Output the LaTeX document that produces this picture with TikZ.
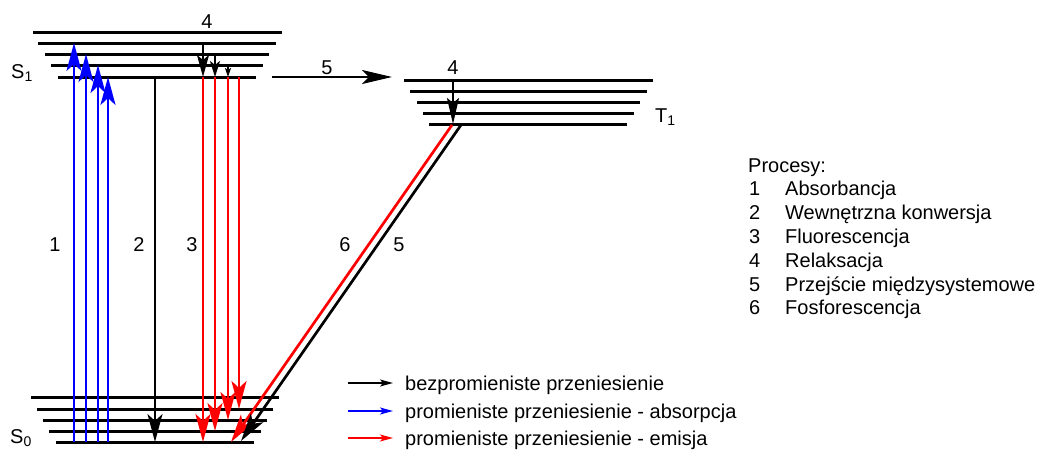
\documentclass[tikz,border=0pt]{standalone}
\usepackage{fontspec}
\setmainfont{Liberation Sans}
\usetikzlibrary{arrows.meta}
\begin{document}
\begin{tikzpicture}[x=1pt,y=-1pt,
  level/.style={line width=3pt},
  tr/.style={line width=2.7pt},
  hbig/.style={-{Stealth[length=28pt,width=15pt,inset=7pt]}},
  hmid/.style={-{Stealth[length=16pt,width=10pt,inset=4pt]}},
  hsmall/.style={-{Stealth[length=9pt,width=6pt,inset=2pt]}},
  hisc/.style={-{Stealth[length=30pt,width=14pt,inset=7pt]}},
  hleg/.style={-{Stealth[length=13pt,width=7pt,inset=3pt]}},
  lbl/.style={font=\fontsize{20}{24}\selectfont, inner sep=0pt}]
\useasboundingbox (0,0) rectangle (1045,450);
% levels
\foreach \y/\a/\b in {32/33/282, 43/38/276, 54/45/269, 65/51/263, 77/58/256}
  \draw[level] (\a,\y) -- (\b,\y);
\foreach \y/\a/\b in {397/31/279, 409/37/273, 420/43/267, 431/49/261, 442/56/254}
  \draw[level] (\a,\y) -- (\b,\y);
\foreach \y/\a/\b in {80/404/653, 91/410/647, 102/417/640, 113/423/634, 124/429/627}
  \draw[level] (\a,\y) -- (\b,\y);
% state labels
\node[lbl, anchor=base west] (s1) at (11,78) {S\textsubscript{1}};
\node[lbl, anchor=base west] (s0) at (10,443) {S\textsubscript{0}};
\node[lbl, anchor=base west] (t1) at (655,122) {T\textsubscript{1}};
% coordinates
\coordinate (a1s) at (74,442); \coordinate (a1e) at (74,43);
\coordinate (a2s) at (86,442); \coordinate (a2e) at (86,54);
\coordinate (a3s) at (98,442); \coordinate (a3e) at (98,65);
\coordinate (a4s) at (108,442); \coordinate (a4e) at (108,77);
\coordinate (icS) at (155,77); \coordinate (icE) at (155,442);
\coordinate (f1s) at (203,77); \coordinate (f1e) at (203,442);
\coordinate (f2s) at (215,77); \coordinate (f2e) at (215,431);
\coordinate (f3s) at (228,77); \coordinate (f3e) at (228,420);
\coordinate (f4s) at (239,77); \coordinate (f4e) at (239,409);
\coordinate (r1s) at (203,43); \coordinate (r1e) at (203,77);
\coordinate (r2s) at (215,54); \coordinate (r2e) at (215,77);
\coordinate (r3s) at (228,65); \coordinate (r3e) at (228,77);
\coordinate (iscS) at (272,77); \coordinate (iscE) at (392,77);
\coordinate (trS) at (453,80); \coordinate (trE) at (453,124);
\coordinate (phS) at (452,125); \coordinate (phE) at (231,442);
\coordinate (nrS) at (461,125); \coordinate (nrE) at (241,441);
% absorption
\draw[tr, hbig, blue] (a1s) -- (a1e);
\draw[tr, hbig, blue] (a2s) -- (a2e);
\draw[tr, hbig, blue] (a3s) -- (a3e);
\draw[tr, hbig, blue] (a4s) -- (a4e);
% internal conversion
\draw[line width=2pt, hbig] (icS) -- (icE);
% fluorescence
\draw[tr, red, hbig] (f1s) -- (f1e);
\draw[tr, red, hbig] (f2s) -- (f2e);
\draw[tr, red, hbig] (f3s) -- (f3e);
\draw[tr, red, hbig] (f4s) -- (f4e);
% relaxation
\draw[line width=2.2pt, -{Stealth[length=22pt,width=12pt,inset=5pt]}] (r1s) -- (r1e);
\draw[line width=2pt, hmid] (r2s) -- (r2e);
\draw[line width=1.6pt, hsmall] (r3s) -- (r3e);
\draw[line width=2.2pt, -{Stealth[length=26pt,width=12pt,inset=5pt]}] (trS) -- (trE);
% intersystem crossing
\draw[line width=2.2pt, hisc] (iscS) -- (iscE);
% phosphorescence and nonradiative
\draw[tr, red, hbig] (phS) -- (phE);
\draw[tr, hbig] (nrS) -- (nrE);
% number labels
\node[lbl] (n4a) at (207,22) {4};
\node[lbl] (n5a) at (327,68) {5};
\node[lbl] (n4b) at (453,68) {4};
\node[lbl] (n1) at (55,245) {1};
\node[lbl] (n2) at (139,245) {2};
\node[lbl] (n3) at (192,245) {3};
\node[lbl] (n6) at (345,245) {6};
\node[lbl] (n5b) at (399,245) {5};
% legend
\coordinate (l1s) at (348,383); \coordinate (l1e) at (393,383);
\coordinate (l2s) at (348,411); \coordinate (l2e) at (393,411);
\coordinate (l3s) at (348,438); \coordinate (l3e) at (393,438);
\draw[line width=1.3pt, hleg] (l1s) -- (l1e);
\draw[line width=1.3pt, hleg, blue] (l2s) -- (l2e);
\draw[line width=1.3pt, hleg, red] (l3s) -- (l3e);
\node[lbl, anchor=base west] (lt1) at (405,390) {bezpromieniste przeniesienie};
\node[lbl, anchor=base west] (lt2) at (405,418) {promieniste przeniesienie - absorpcja};
\node[lbl, anchor=base west] (lt3) at (405,445) {promieniste przeniesienie - emisja};
% processes
\node[lbl, anchor=base west] (pr) at (748,172) {Procesy:};
\foreach \i/\t [count=\k] in {1/Absorbancja, 2/Wewnętrzna konwersja, 3/Fluorescencja, 4/Relaksacja, 5/Przejście międzysystemowe, 6/Fosforescencja}{
  \node[lbl, anchor=base west] (pn\k) at (749,172+23.8*\k) {\i};
  \node[lbl, anchor=base west] (pt\k) at (785,172+23.8*\k) {\t};
}
\end{tikzpicture}
\end{document}
